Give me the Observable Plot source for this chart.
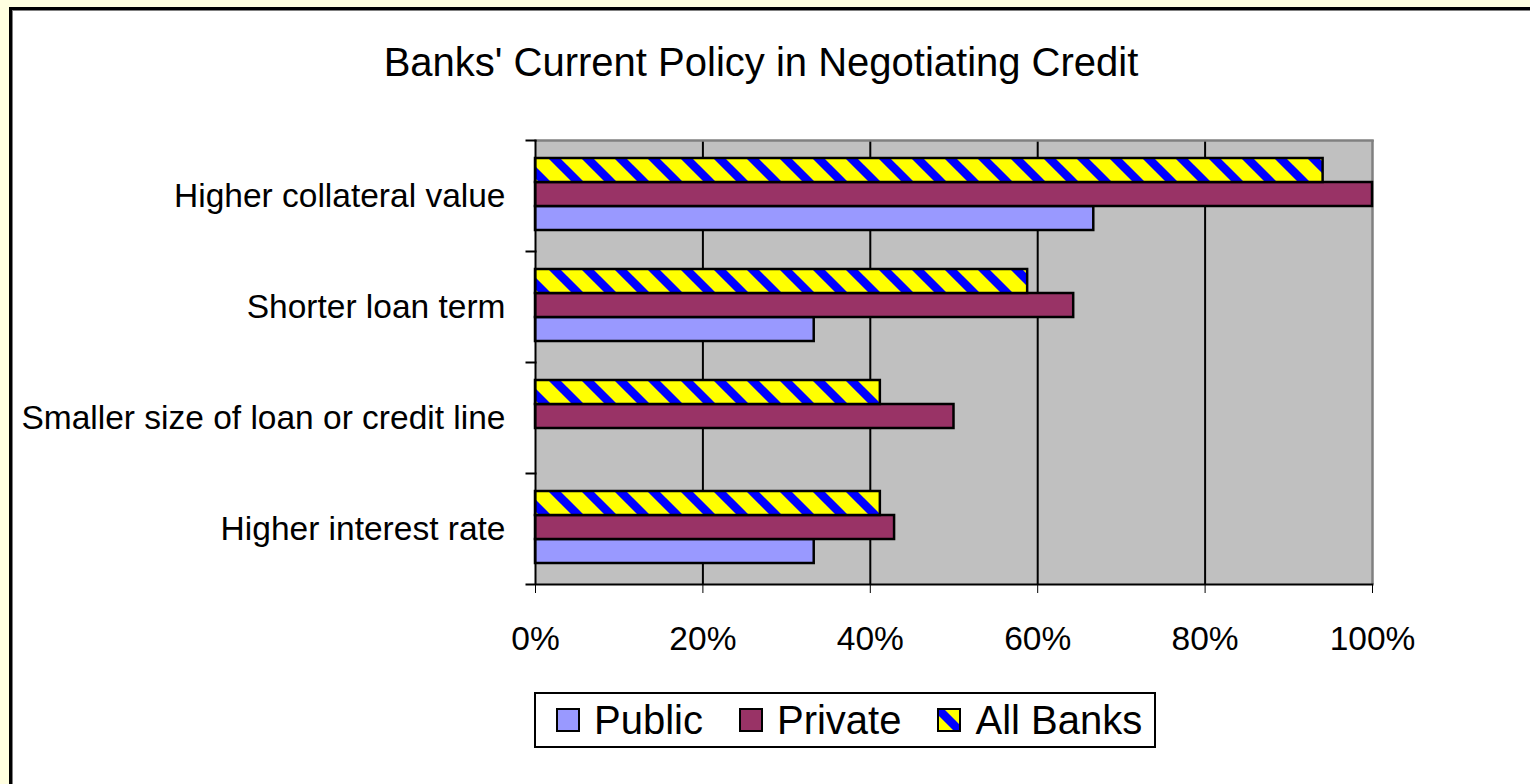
<!DOCTYPE html>
<html><head><meta charset="utf-8">
<script src="https://cdn.jsdelivr.net/npm/d3@7"></script>
<script src="https://cdn.jsdelivr.net/npm/@observablehq/plot@0.6"></script>
<style>
html,body{margin:0;padding:0;width:1530px;height:784px;overflow:hidden;background:#FFFFE0;font-family:"Liberation Sans",Arial,sans-serif;}
#frame{position:absolute;left:9px;top:7px;width:1600px;height:900px;background:#fff;border-left:3px solid #000;border-top:3px solid #000;box-shadow:inset 1px 1px 0 #808080;}
#title{position:absolute;left:0;top:42px;width:1522px;text-align:center;font-size:40px;line-height:40px;color:#000;white-space:nowrap;}
#chart{position:absolute;left:0;top:0;}
#legend{position:absolute;left:534px;top:692px;height:52px;box-sizing:content-box;border:2px solid #000;background:#fff;display:flex;align-items:center;padding:0 12px 0 20px;font-size:40px;color:#000;white-space:nowrap;}
#legend .item{display:flex;align-items:center;margin-right:36px;}
#legend .item:last-child{margin-right:0;}
#legend svg{margin-right:14px;display:block;}
</style></head>
<body>
<svg width="0" height="0" style="position:absolute">
  <defs>
    <pattern id="hatch" patternUnits="userSpaceOnUse" width="33" height="33">
      <rect width="33" height="33" fill="#FFFF00"/>
      <path d="M-10,-10 L43,43 M23,-10 L43,10 M-10,23 L10,43" stroke="#0000FF" stroke-width="8.5"/>
    </pattern>
  </defs>
</svg>
<div id="frame"></div>
<div id="title">Banks' Current Policy in Negotiating Credit</div>
<div id="chart"></div>
<div id="legend"></div>
<script>
const categories = ["Higher collateral value", "Shorter loan term", "Smaller size of loan or credit line", "Higher interest rate"];
const series = ["Public", "Private", "All Banks"];
const publicVals = [66.7, 33.3, 0, 33.3];
const privateVals = [100, 64.3, 50, 42.9];
const allBanksVals = [94.1, 58.8, 41.2, 41.2];
const xTicks = [0, 20, 40, 60, 80, 100];
const gridTicks = [20, 40, 60, 80];
const seriesColors = ["#9999FF", "#993366", "url(#hatch)"];

const rows = categories.flatMap((c, i) => [
  {category: c, series: "Public", value: publicVals[i]},
  {category: c, series: "Private", value: privateVals[i]},
  {category: c, series: "All Banks", value: allBanksVals[i]}
]);

const W = 1530, H = 680, mL = 535, mR = 158, mT = 140, mB = 96;
const plotW = W - mL - mR;
const font = '"Liberation Sans", Arial, sans-serif';

const chart = Plot.plot({
  width: W, height: H,
  marginLeft: mL, marginRight: mR, marginTop: mT, marginBottom: mB,
  style: {fontFamily: font, fontSize: "33.5px", color: "#000", background: "transparent", overflow: "visible"},
  x: {domain: [0, 100], ticks: xTicks, tickFormat: d => d + "%", tickSize: 9, tickPadding: 33, label: null},
  y: {domain: ["All Banks", "Private", "Public"], paddingInner: 0, paddingOuter: 0.74, align: 0.45, axis: null},
  fy: {domain: categories, padding: 0, label: null, tickSize: 0, tickPadding: 30, axis: "left"},
  color: {domain: series, range: seriesColors},
  marks: [
    Plot.frame({fill: "#C0C0C0", shapeRendering: "crispEdges"}),
    Plot.ruleX(gridTicks, {stroke: "#000", strokeWidth: 2}),
    Plot.ruleX([100], {stroke: "#808080", strokeWidth: 2.5}),
    Plot.frame({anchor: "top", stroke: "#808080", strokeWidth: 2.5, fy: [categories[0]]}),
    Plot.barX(rows, {fy: "category", y: "series", x: "value", fill: "series", stroke: "#000", strokeWidth: 2.5}),
    Plot.ruleX([0], {stroke: "#000", strokeWidth: 2}),
    Plot.frame({anchor: "top", stroke: "#000", strokeWidth: 2, insetLeft: -9, insetRight: plotW}),
    Plot.frame({anchor: "bottom", stroke: "#000", strokeWidth: 2, insetLeft: -9, fy: [categories[categories.length - 1]]})
  ]
});
document.getElementById("chart").appendChild(chart);

const legend = document.getElementById("legend");
series.forEach((s, i) => {
  const item = document.createElement("div");
  item.className = "item";
  item.innerHTML = `<svg width="24" height="24"><rect x="1" y="1" width="22" height="22" fill="${seriesColors[i]}" stroke="#000" stroke-width="2"/></svg><span>${s}</span>`;
  legend.appendChild(item);
});
</script>
</body></html>
